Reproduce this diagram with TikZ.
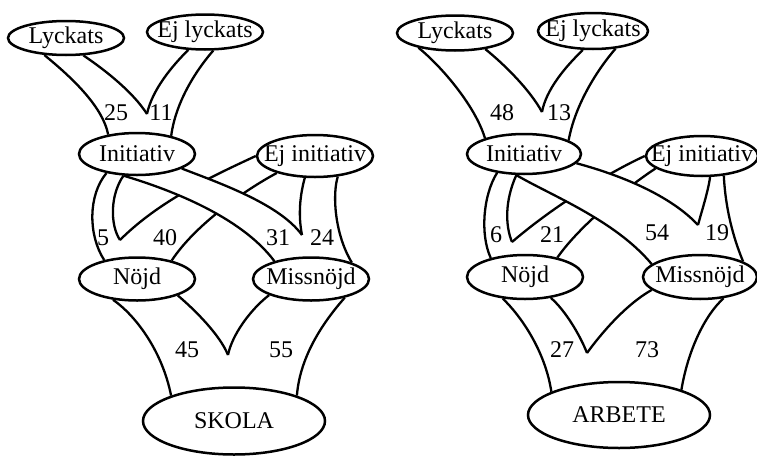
\documentclass[tikz,border=0pt]{standalone}
\usepackage{fontspec}
\setmainfont{Liberation Serif}
\usetikzlibrary{shapes.geometric,backgrounds}

\tikzset{
  kat/.style={ellipse, draw, fill=white, line width=2.5pt, inner sep=0pt,
    minimum width=116pt, minimum height=42pt},
  rot/.style={kat, minimum width=182pt, minimum height=66pt},
  band/.style={line width=2.3pt},
  tal/.style={inner sep=0pt},
}
\newcommand{\etikett}[1]{\makebox[0pt]{#1}}

\begin{document}
\begin{tikzpicture}[x=1pt, y=-1pt, font=\fontsize{24}{28}\selectfont]
  \useasboundingbox (0,0) rectangle (757,455);

  % SKOLA
  \node[kat, minimum height=34pt] (lycL) at (66,38) {\etikett{Lyckats}};
  \node[kat, minimum height=35pt] (ejlL) at (205,32) {\etikett{Ej lyckats}};
  \node[kat] (iniL) at (137,154) {\etikett{Initiativ}};
  \node[kat] (ejiL) at (315,156) {\etikett{Ej initiativ}};
  \node[kat, minimum height=43pt] (nojL) at (137,279) {\etikett{Nöjd}};
  \node[kat, minimum height=43pt] (misL) at (311,279) {\etikett{Missnöjd}};
  \node[rot, minimum height=67pt] (skoL) at (234,421) {\etikett{SKOLA}};

  \coordinate (v1L) at (147,114);
  \coordinate (v2L) at (120,240);
  \coordinate (v3L) at (302,235);
  \coordinate (v4L) at (228,355);

  \node[tal] (t25) at (116,113) {25};
  \node[tal] (t11) at (161,113) {11};
  \node[tal] (t5)  at (103,238) {5};
  \node[tal] (t40) at (165,238) {40};
  \node[tal] (t31) at (278,238) {31};
  \node[tal] (t24) at (322,238) {24};
  \node[tal] (t45) at (187,350) {45};
  \node[tal] (t55) at (281,350) {55};

  \begin{scope}[on background layer]
  \begin{scope}[band]
    % ej initiativ -> nojd goes under initiativ -> missnojd
    \draw (ejiL.180) .. controls (215,175) and (160,200) .. (v2L);
    \draw (ejiL.-156) .. controls (245,190) and (195,225) .. (nojL.28);
    \fill[white] (iniL.-18) .. controls (225,185) and (280,205) .. (v3L)
      -- (misL.154) .. controls (240,215) and (165,188) .. (iniL.-122) -- cycle;
    \draw (iniL.-18) .. controls (225,185) and (280,205) .. (v3L);
    \draw (iniL.-122) .. controls (165,188) and (240,215) .. (misL.154);

    \draw (lycL.-142) .. controls (75,80) and (103,108) .. (iniL.146);
    \draw (lycL.-45) .. controls (105,70) and (133,92) .. (v1L);
    \draw (ejlL.-133) .. controls (172,66) and (152,90) .. (v1L);
    \draw (ejlL.-66) .. controls (198,68) and (176,100) .. (iniL.28);

    \draw (iniL.-148) .. controls (88,195) and (88,235) .. (nojL.150);
    \draw (iniL.-122) .. controls (110,195) and (110,225) .. (v2L);
    \draw (ejiL.-115) .. controls (300,195) and (298,215) .. (v3L);
    \draw (ejiL.-42) .. controls (332,195) and (335,235) .. (misL.22);

    \draw (nojL.-139) .. controls (135,315) and (162,350) .. (skoL.158);
    \draw (nojL.-22) .. controls (195,310) and (220,335) .. (v4L);
    \draw (misL.-159) .. controls (250,310) and (232,335) .. (v4L);
    \draw (misL.-29) .. controls (325,320) and (300,355) .. (skoL.22);
  \end{scope}
  \end{scope}

  % ARBETE
  \node[kat, minimum height=35pt] (lycR) at (455,33) {\etikett{Lyckats}};
  \node[kat, minimum width=110pt, minimum height=36pt] (ejlR) at (593,31) {\etikett{Ej lyckats}};
  \node[kat, minimum width=114pt, minimum height=40pt] (iniR) at (524,154) {\etikett{Initiativ}};
  \node[kat, minimum width=112pt, minimum height=40pt] (ejiR) at (702,156) {\etikett{Ej initiativ}};
  \node[kat, minimum height=44pt] (nojR) at (525,277) {\etikett{Nöjd}};
  \node[kat, minimum width=114pt, minimum height=44pt] (misR) at (700,277) {\etikett{Missnöjd}};
  \node[rot] (arbR) at (619,415) {\etikett{ARBETE}};

  \coordinate (v1R) at (542,112);
  \coordinate (v2R) at (512,242);
  \coordinate (v3R) at (698,225);
  \coordinate (v4R) at (587,353);

  \node[tal] (t48) at (502,113) {48};
  \node[tal] (t13) at (559,113) {13};
  \node[tal] (t6)  at (496,235) {6};
  \node[tal] (t21) at (552,235) {21};
  \node[tal] (t54) at (657,233) {54};
  \node[tal] (t19) at (717,233) {19};
  \node[tal] (t27) at (562,350) {27};
  \node[tal] (t73) at (647,350) {73};

  \begin{scope}[on background layer]
  \begin{scope}[band]
    \draw (ejiR.180) .. controls (610,172) and (555,205) .. (v2R);
    \draw (ejiR.-165) .. controls (630,185) and (580,225) .. (nojR.31);
    \fill[white] (iniR.-10) .. controls (620,175) and (670,195) .. (v3R)
      -- (misR.165) .. controls (615,220) and (550,195) .. (iniR.-110) -- cycle;
    \draw (iniR.-10) .. controls (620,175) and (670,195) .. (v3R);
    \draw (iniR.-110) .. controls (550,195) and (615,220) .. (misR.165);

    \draw (lycR.-158) .. controls (440,65) and (475,105) .. (iniR.158);
    \draw (lycR.-28) .. controls (505,65) and (530,90) .. (v1R);
    \draw (ejlR.-118) .. controls (565,67) and (546,90) .. (v1R);
    \draw (ejlR.-38) .. controls (597,70) and (575,105) .. (iniR.17);

    \draw (iniR.-145) .. controls (483,195) and (480,235) .. (nojR.151);
    \draw (iniR.-110) .. controls (505,200) and (505,225) .. (v2R);
    \draw (ejiR.-69) .. controls (708,192) and (702,210) .. (v3R);
    \draw (ejiR.-42) .. controls (725,200) and (730,230) .. (misR.20);

    \draw (nojR.-136) .. controls (520,315) and (545,350) .. (arbR.161);
    \draw (nojR.-39) .. controls (565,310) and (580,335) .. (v4R);
    \draw (misR.-165) .. controls (625,305) and (600,335) .. (v4R);
    \draw (misR.-42) .. controls (705,315) and (688,350) .. (arbR.22);
  \end{scope}
  \end{scope}
\end{tikzpicture}
\end{document}
